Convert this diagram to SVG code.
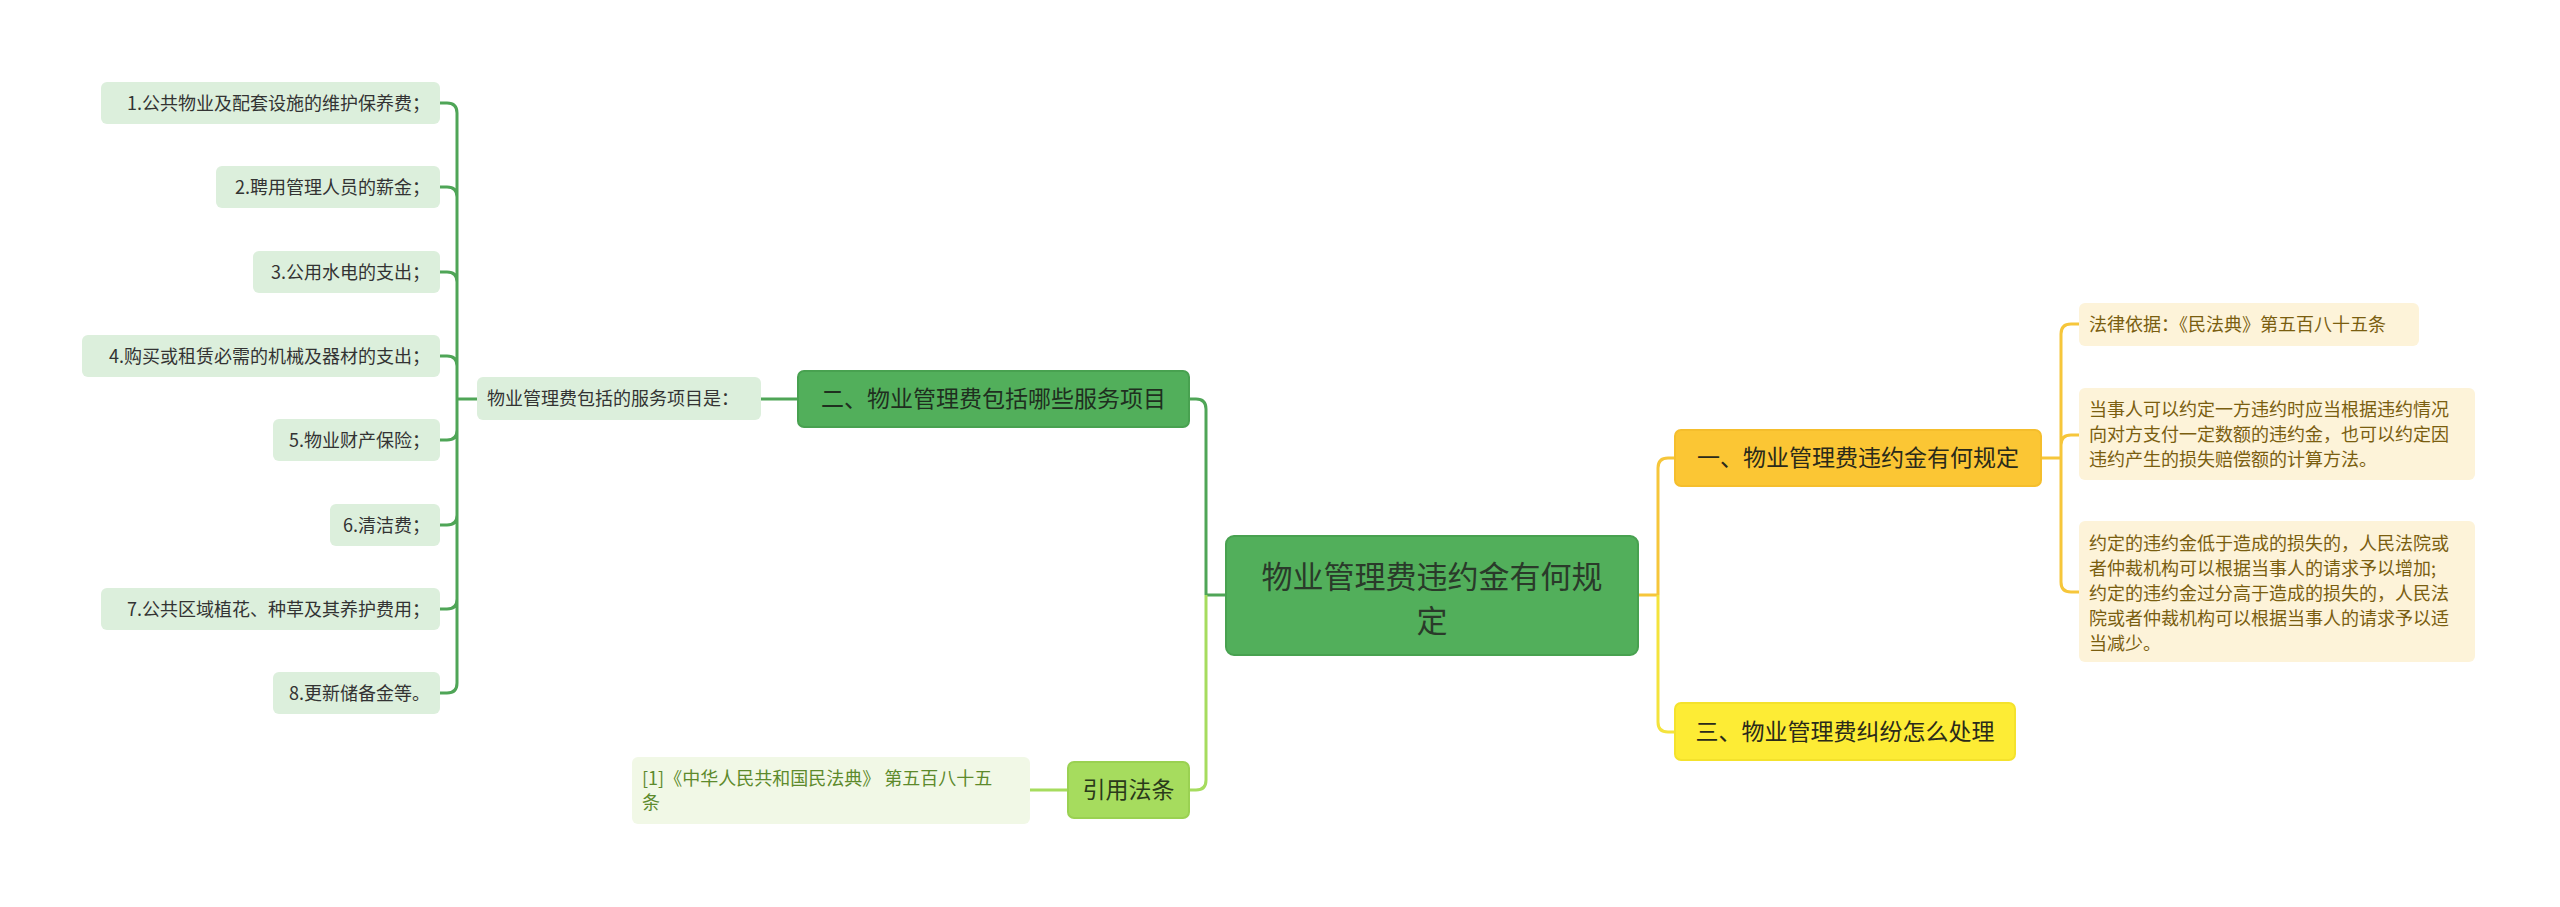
<svg xmlns="http://www.w3.org/2000/svg" width="2560" height="907" viewBox="0 0 2560 907">
<style>
text{font-family:"Noto Sans CJK SC","Liberation Sans",sans-serif;}
.leaf{fill:#dcefdc;}
.lt{font-size:18px;fill:#333;}
.ln{fill:none;stroke-width:3;}
.dg{stroke:#4fa557;}
.lg{stroke:#a6dc5e;}
.og{stroke:#f6c63a;}
.yg{stroke:#f4e33c;}
.cr{fill:#fdf3d9;}
.ct{font-size:18px;fill:#7a5e10;}
</style>
<rect width="2560" height="907" fill="#fff"/>
<g id="connectors">
<path class="ln dg" d="M1226,595 H1206 M1206,595 V409 Q1206,399 1196,399 H1189"/>
<path class="ln lg" d="M1206,595 V780 Q1206,790 1196,790 H1189 M1068,790 H1030"/>
<path class="ln dg" d="M798,399 H761 M477,399 H457"/>
<path class="ln dg" d="M457,399 V113 Q457,103 447,103 H440 M457,197 Q457,187 447,187 H440 M457,282 Q457,272 447,272 H440 M457,366 Q457,356 447,356 H440 M457,399 V683 Q457,693 447,693 H440 M457,599 Q457,609 447,609 H440 M457,515 Q457,525 447,525 H440 M457,430 Q457,440 447,440 H440"/>
<path class="ln og" d="M1638,595 H1658 M1658,595 V468 Q1658,458 1668,458 H1675"/>
<path class="ln yg" d="M1658,595 V722 Q1658,732 1668,732 H1675"/>
<path class="ln og" d="M2041,458 H2061 M2061,458 V334 Q2061,324 2071,324 H2079 M2061,445 Q2061,435 2071,435 H2079 M2061,458 V582 Q2061,592 2071,592 H2079"/>
</g>
<g id="root"><rect x="1226" y="536" width="412" height="119" rx="8" fill="#52af5b" stroke="#48a150" stroke-width="2"/>
<text x="1432" y="588" font-size="31" fill="#2a3a2a" text-anchor="middle">物业管理费违约金有何规</text>
<text x="1432" y="632" font-size="31" fill="#2a3a2a" text-anchor="middle">定</text></g>
<g id="n2"><rect x="798" y="371" width="391" height="56" rx="6" fill="#52af5b" stroke="#48a150" stroke-width="2"/>
<text x="993.5" y="407" font-size="23" fill="#1f2f1f" text-anchor="middle">二、物业管理费包括哪些服务项目</text></g>
<g id="n2a"><rect x="477" y="377" width="284" height="43" rx="6" class="leaf"/>
<text x="487" y="405" class="lt">物业管理费包括的服务项目是：</text></g>
<g id="l1"><rect x="101" y="82" width="339" height="42" rx="6" class="leaf"/><text x="430" y="110" class="lt" text-anchor="end">1.公共物业及配套设施的维护保养费；</text></g>
<g id="l2"><rect x="216" y="166" width="224" height="42" rx="6" class="leaf"/><text x="430" y="194" class="lt" text-anchor="end">2.聘用管理人员的薪金；</text></g>
<g id="l3"><rect x="253" y="251" width="187" height="42" rx="6" class="leaf"/><text x="430" y="279" class="lt" text-anchor="end">3.公用水电的支出；</text></g>
<g id="l4"><rect x="82" y="335" width="358" height="42" rx="6" class="leaf"/><text x="430" y="363" class="lt" text-anchor="end">4.购买或租赁必需的机械及器材的支出；</text></g>
<g id="l5"><rect x="273" y="419" width="167" height="42" rx="6" class="leaf"/><text x="430" y="447" class="lt" text-anchor="end">5.物业财产保险；</text></g>
<g id="l6"><rect x="330" y="504" width="110" height="42" rx="6" class="leaf"/><text x="430" y="532" class="lt" text-anchor="end">6.清洁费；</text></g>
<g id="l7"><rect x="101" y="588" width="339" height="42" rx="6" class="leaf"/><text x="430" y="616" class="lt" text-anchor="end">7.公共区域植花、种草及其养护费用；</text></g>
<g id="l8"><rect x="273" y="672" width="167" height="42" rx="6" class="leaf"/><text x="430" y="700" class="lt" text-anchor="end">8.更新储备金等。</text></g>
<g id="cite"><rect x="1068" y="762" width="121" height="56" rx="6" fill="#a6dc5e" stroke="#9ad152" stroke-width="2"/>
<text x="1128.5" y="798" font-size="23" fill="#2a3a1a" text-anchor="middle">引用法条</text></g>
<g id="cite1"><rect x="632" y="757" width="398" height="67" rx="6" fill="#f1f8e6"/>
<text x="642" y="785" font-size="18" fill="#5d8a2c">[1]《中华人民共和国民法典》 第五百八十五</text>
<text x="642" y="809" font-size="18" fill="#5d8a2c">条</text></g>
<g id="n1"><rect x="1675" y="430" width="366" height="56" rx="6" fill="#fbc634" stroke="#f5be2c" stroke-width="2"/>
<text x="1858" y="466" font-size="23" fill="#2a2a1a" text-anchor="middle">一、物业管理费违约金有何规定</text></g>
<g id="n3"><rect x="1675" y="703" width="340" height="57" rx="6" fill="#fdec35" stroke="#f4e22c" stroke-width="2"/>
<text x="1845" y="740" font-size="23" fill="#2a2a1a" text-anchor="middle">三、物业管理费纠纷怎么处理</text></g>
<g id="c1"><rect x="2079" y="303" width="340" height="43" rx="6" class="cr"/>
<text x="2089" y="331" class="ct">法律依据：《民法典》第五百八十五条</text></g>
<g id="c2"><rect x="2079" y="388" width="396" height="92" rx="6" class="cr"/>
<text class="ct"><tspan x="2089" y="416">当事人可以约定一方违约时应当根据违约情况</tspan><tspan x="2089" y="441">向对方支付一定数额的违约金，也可以约定因</tspan><tspan x="2089" y="466">违约产生的损失赔偿额的计算方法。</tspan></text></g>
<g id="c3"><rect x="2079" y="521" width="396" height="141" rx="6" class="cr"/>
<text class="ct"><tspan x="2089" y="550">约定的违约金低于造成的损失的，人民法院或</tspan><tspan x="2089" y="575">者仲裁机构可以根据当事人的请求予以增加;</tspan><tspan x="2089" y="600">约定的违约金过分高于造成的损失的，人民法</tspan><tspan x="2089" y="625">院或者仲裁机构可以根据当事人的请求予以适</tspan><tspan x="2089" y="650">当减少。</tspan></text></g>
</svg>
